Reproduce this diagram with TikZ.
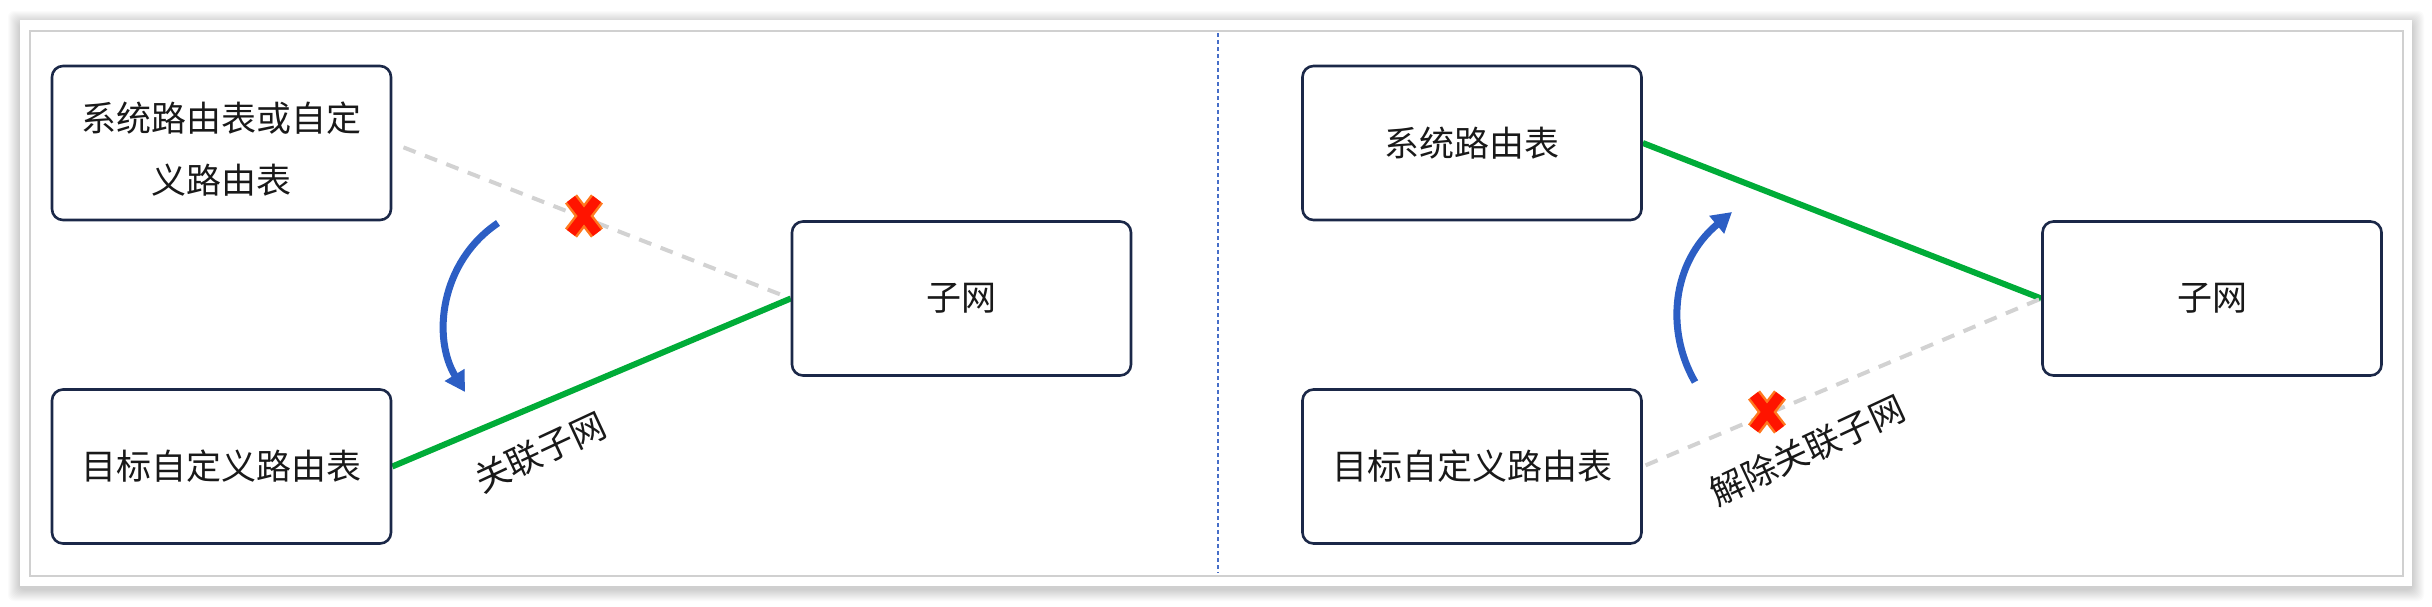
\documentclass[tikz,border=0pt]{standalone}
\usepackage{fontspec}
\setmainfont{Noto Sans CJK SC}
\usetikzlibrary{arrows.meta}
\definecolor{navy}{RGB}{27,40,72}
\definecolor{lgreen}{RGB}{0,172,56}
\definecolor{dgray}{RGB}{210,210,210}
\definecolor{framegray}{RGB}{208,208,208}
\definecolor{arrblue}{RGB}{44,94,196}
\definecolor{xred}{RGB}{255,20,0}
\definecolor{xorange}{RGB}{255,120,30}
\definecolor{divblue}{RGB}{70,110,200}
\pgfdeclarelayer{bottom}
\pgfdeclarelayer{back}
\pgfsetlayers{bottom,back,main}
\begin{document}
\begin{tikzpicture}[x=1pt,y=-1pt,
  box/.style={draw=navy, line width=2.6pt, rounded corners=11pt, minimum width=339pt, minimum height=154pt, inner sep=0pt, fill=white, font=\fontsize{35}{62}\selectfont, text=black!90},
  txt/.style={font=\fontsize{35}{62}\selectfont, inner sep=0pt, text=black!90},
  link/.style={draw=lgreen, line width=6pt},
  broken/.style={draw=dgray, line width=4pt, dash pattern=on 13pt off 10pt},
  swing/.style={draw=arrblue, line width=7pt, -{Triangle[width=22pt,length=20pt]}},
  cross/.pic={
    \draw[xorange, line width=15pt] (-13,-17) -- (13,17) (-13,17) -- (13,-17);
    \draw[xred, line width=10pt] (-13,-17) -- (13,17) (-13,17) -- (13,-17);
  }
]
\begin{pgfonlayer}{bottom}
\fill[white] (0,0) rectangle (2432,606);
\foreach \i in {1,...,12}
  \fill[black, opacity=0.016, rounded corners=6pt] (20-\i,23-\i) rectangle (2412+\i,589+\i);
\fill[white] (20,20) rectangle (2412,586);
\draw[framegray, line width=2.5pt] (30,31) rectangle (2403,576);
\coordinate (d1) at (1218,33);
\coordinate (d2) at (1218,573);
\draw[divblue, line width=1.3pt, dash pattern=on 4pt off 3pt] (d1) -- (d2);
\end{pgfonlayer}
\useasboundingbox (0,0) rectangle (2432,606);

% left panel
\node[box] (sysL) at (221.5,143) {};
\node[txt, align=center] (sysLt) at (221.5,149) {系统路由表或自定\\义路由表};
\node[box] (tgtL) at (221.5,466.5) {目标自定义路由表};
\node[box] (subL) at (961.5,298.5) {子网};

% right panel
\node[box] (sysR) at (1472,143) {系统路由表};
\node[box] (tgtR) at (1472,466.5) {目标自定义路由表};
\node[box] (subR) at (2212,298.5) {子网};

\begin{pgfonlayer}{back}
\draw[broken, shorten <=12pt] (sysL.east) -- (subL.west);
\draw[link] (tgtL.east) -- (subL.west);
\draw[link] (sysR.east) -- (subR.west);
\draw[broken, shorten <=3pt] (tgtR.east) -- (subR.west);
\end{pgfonlayer}

\pic at (584,216) {cross};
\pic at (1767,412) {cross};

\coordinate (aL1) at (498,223);
\coordinate (aL2) at (465,392);
\draw[swing] (aL1) .. controls (440,262) and (432,338) .. (aL2);
\coordinate (aR1) at (1695,382);
\coordinate (aR2) at (1732,212);
\draw[swing] (aR1) .. controls (1665,330) and (1672,262) .. (aR2);

\node[txt, rotate=25] (lblL) at (540,452) {关联子网};
\node[txt, rotate=25] (lblR) at (1807,450) {解除关联子网};
\end{tikzpicture}
\end{document}
